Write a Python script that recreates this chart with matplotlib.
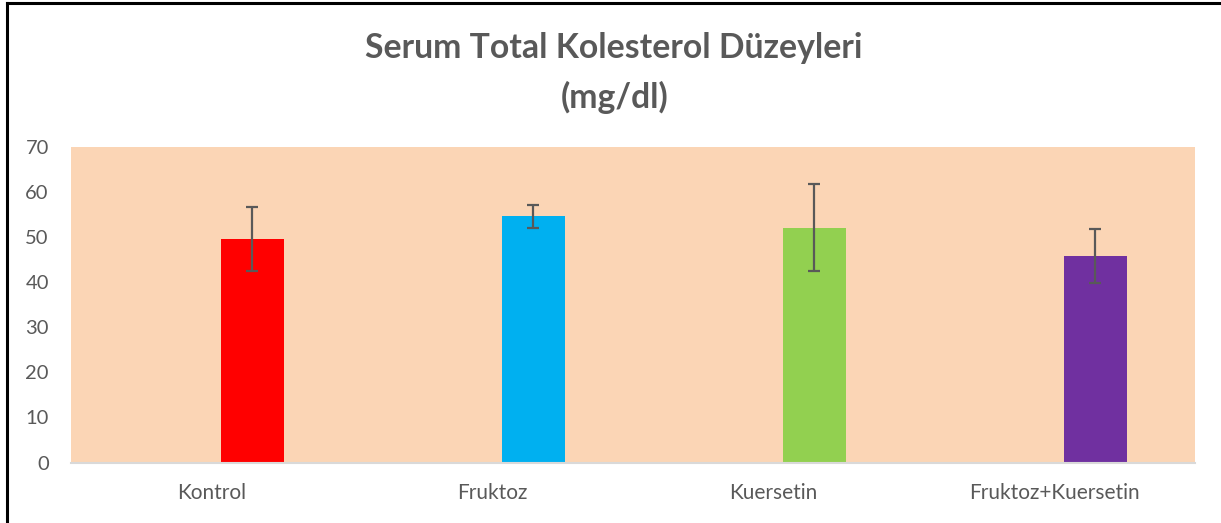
import numpy as np
import matplotlib.pyplot as plt
from matplotlib.lines import Line2D

# group names and mean values (mg/dl) with error bar sizes
groups = ["Kontrol", "Fruktoz", "Kuersetin", "Fruktoz+Kuersetin"]
means = [49.6, 54.6, 52.1, 45.9]
errors = [7.1, 2.6, 9.7, 6.0]
colors = ["#FF0000", "#00B0F0", "#92D050", "#7030A0"]
yticks = [0, 10, 20, 30, 40, 50, 60, 70]

grey = "#595959"

fig = plt.figure(figsize=(12.21, 5.23), dpi=100)
ax = fig.add_axes([71/1221, 1 - 462.5/523, (1195 - 71)/1221, (462.5 - 147)/523])

x = np.arange(len(groups))
# bars sit right of the category centre (excel cluster with an empty second slot)
xb = x + 0.145
ax.bar(xb, means, width=0.225, color=colors, zorder=2)
ax.errorbar(xb, means, yerr=errors, fmt="none", ecolor=grey, elinewidth=1.6,
            capsize=4.5, capthick=1.6, zorder=3)

ax.set_facecolor("#FBD5B5")
ax.set_xlim(-0.5, len(groups) - 0.5)
ax.set_ylim(0, 70)
ax.set_yticks(yticks)
ax.set_xticks(x)
ax.set_xticklabels(groups)
for s in ["top", "right", "left"]:
    ax.spines[s].set_visible(False)
ax.spines["bottom"].set_color("#D9D9D9")
ax.spines["bottom"].set_linewidth(1.5)
ax.tick_params(axis="both", length=0, labelcolor=grey)
ax.tick_params(axis="y", pad=16, labelsize=14.5)
ax.tick_params(axis="x", pad=15, labelsize=15)
for lab in ax.get_xticklabels() + ax.get_yticklabels():
    lab.set_fontfamily("Lato")

fig.text(0.503, 1 - 48/523, "Serum Total Kolesterol Düzeyleri", ha="center", va="center",
         fontsize=24.3, fontweight="bold", color=grey, family="Lato")
fig.text(0.503, 1 - 97/523, "(mg/dl)", ha="center", va="center",
         fontsize=24.3, fontweight="bold", color=grey, family="Lato")

# outer frame (top and left only visible in the crop)
fig.add_artist(Line2D([7.5/1221, 1], [1 - 2.5/523, 1 - 2.5/523], color="black", lw=2.2, transform=fig.transFigure))
fig.add_artist(Line2D([7.5/1221, 7.5/1221], [0, 1 - 2.5/523], color="black", lw=2.2, transform=fig.transFigure))

fig.savefig("out.png", dpi=100)
